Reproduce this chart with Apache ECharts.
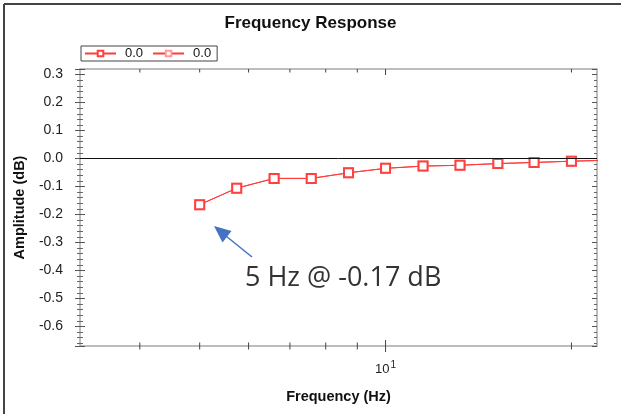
<!DOCTYPE html>
<html>
<head>
<meta charset="utf-8">
<script src="https://cdn.jsdelivr.net/npm/echarts@6/dist/echarts.min.js"></script>
<style>
html,body{margin:0;padding:0;background:#fff;}
#c{width:621px;height:414px;}
</style>
</head>
<body>
<div id="c"></div>
<script>
// Data
const frequencies = [5, 5.74, 6.6, 7.58, 8.71, 10, 11.5, 13.2, 15.2, 17.4, 20, 23];
const amplitudeA = [-0.165, -0.106, -0.071, -0.071, -0.051, -0.035, -0.027, -0.024, -0.018, -0.014, -0.0095, -0.006];
const amplitudeB = [-0.165, -0.106, -0.071, -0.071, -0.051, -0.035, -0.027, -0.024, -0.018, -0.014, -0.0095, -0.006];
const legendNames = ['0.0', '0.0'];
const xTickValues = [4, 5, 6, 7, 8, 9, 10, 20];
const X_MIN = 3.2, X_MAX = 22;
const Y_MIN = -0.67, Y_MAX = 0.32;
const annotationText = '5 Hz @ -0.17 dB';

const chart = echarts.init(document.getElementById('c'));
const font = '"Liberation Sans", Arial, sans-serif';

function pairs(xs, ys) { return xs.map((x, i) => [x, ys[i]]); }

const yBase = {
  type: 'value', min: Y_MIN, max: Y_MAX, splitNumber: 10, splitLine: {show: false},
  axisLine: {show: false}
};

chart.setOption({
  animation: false,
  title: {
    text: 'Frequency Response', left: 'center', top: 10,
    textStyle: {fontFamily: font, fontWeight: 'bold', fontSize: 17, color: '#111'}
  },
  legend: {
    left: 81, top: 46,
    data: ['s1', 's2'],
    formatter: (n) => n === 's1' ? legendNames[0] : legendNames[1],
    itemWidth: 31, itemHeight: 7, itemGap: 9,
    padding: [1, 6, 1, 3],
    borderColor: '#444', borderWidth: 1,
    textStyle: {fontFamily: font, fontSize: 13, color: '#111', padding: [0, 0, 0, 4]}
  },
  grid: {
    left: 80, right: 24, top: 69, bottom: 68, show: true,
    borderColor: '#a8a8a8', borderWidth: 1.5, containLabel: false
  },
  xAxis: [{
    type: 'log', min: X_MIN, max: X_MAX, logBase: 10,
    name: 'Frequency (Hz)', nameLocation: 'middle', nameGap: 43,
    nameTextStyle: {fontFamily: font, fontWeight: 'bold', fontSize: 14.5, color: '#111'},
    axisLine: {show: false}, axisTick: {show: false}, splitLine: {show: false},
    axisLabel: {
      showMinLabel: false, showMaxLabel: false, margin: 14,
      formatter: (v) => Math.abs(v - 10) < 0.01 ? '{a|10}{b|1}' : '',
      rich: {
        a: {fontFamily: font, fontSize: 13, color: '#222'},
        b: {fontFamily: font, fontSize: 10, color: '#222', padding: [0, 0, 9, 1]}
      }
    }
  }],
  yAxis: [
    Object.assign({}, yBase, {
      position: 'left',
      name: 'Amplitude (dB)', nameLocation: 'middle', nameGap: 48,
      nameTextStyle: {fontFamily: font, fontWeight: 'bold', fontSize: 14.5, color: '#111'},
      axisTick: {show: true, inside: false, length: 5, lineStyle: {color: '#555'}},
      minorTick: {show: true, splitNumber: 5, length: 3, lineStyle: {color: '#666'}},
      axisLabel: {
        showMinLabel: false, showMaxLabel: false, margin: 17,
        fontFamily: font, fontSize: 14, color: '#222',
        formatter: (v) => v.toFixed(1)
      }
    }),
    Object.assign({}, yBase, {
      position: 'left', offset: 0,
      axisTick: {show: true, inside: true, length: 5, lineStyle: {color: '#555'}},
      minorTick: {show: true, splitNumber: 5, length: 3, lineStyle: {color: '#666'}},
      axisLabel: {show: false}
    }),
    Object.assign({}, yBase, {
      position: 'right', offset: 0,
      axisTick: {show: true, inside: true, length: 5, lineStyle: {color: '#555'}},
      minorTick: {show: true, splitNumber: 5, length: 3, lineStyle: {color: '#666'}},
      axisLabel: {show: false}
    })
  ],
  series: [
    {
      name: 's1', type: 'line', data: pairs(frequencies, amplitudeA),
      symbol: 'emptyRect', symbolSize: 9, color: '#ff4040',
      lineStyle: {width: 1, color: '#ff3a3a'},
      itemStyle: {color: '#ff4040', borderWidth: 1},
      z: 3,
      markLine: {
        silent: true, symbol: ['none', 'none'], label: {show: false},
        lineStyle: {color: '#111', width: 1, type: 'solid'},
        data: [{yAxis: 0}]
      }
    },
    {
      name: 's2', type: 'line', data: pairs(frequencies, amplitudeB),
      symbol: 'emptyRect', symbolSize: 9, color: '#ff9a9a',
      lineStyle: {width: 1, color: '#ff3a3a'},
      itemStyle: {color: '#ff9a9a', borderWidth: 1},
      z: 2
    },
    {
      type: 'custom', silent: true, clip: false, z: 5,
      data: xTickValues.map(v => [v]),
      encode: {x: 0},
      renderItem: function (params, api) {
        const v = api.value(0);
        const b = api.coord([v, Y_MIN]);
        const t = api.coord([v, Y_MAX]);
        const major = Math.abs(v - 10) < 1e-9;
        const len = major ? 6 : 3.5;
        const st = {stroke: '#444', lineWidth: 1};
        return {
          type: 'group', children: [
            {type: 'line', shape: {x1: b[0], y1: b[1] - len, x2: b[0], y2: b[1] + len}, style: st},
            {type: 'line', shape: {x1: t[0], y1: t[1], x2: t[0], y2: t[1] + len}, style: st}
          ]
        };
      }
    }
  ],
  graphic: [
    {type: 'line', shape: {x1: 4, y1: 4, x2: 621, y2: 4}, style: {stroke: '#444', lineWidth: 2}},
    {type: 'line', shape: {x1: 4, y1: 4, x2: 4, y2: 414}, style: {stroke: '#444', lineWidth: 2}},
    {type: 'line', shape: {x1: 252, y1: 257, x2: 226, y2: 236}, style: {stroke: '#4472C4', lineWidth: 1.5}},
    {type: 'polygon', shape: {points: [[214, 226], [231.5, 231], [222.5, 242.5]]}, style: {fill: '#4472C4'}},
    {type: 'text', left: 245, top: 265, style: {text: annotationText, font: '27px "Open Sans", "Noto Sans", sans-serif', fill: '#333'}}
  ]
});
</script>
</body>
</html>
